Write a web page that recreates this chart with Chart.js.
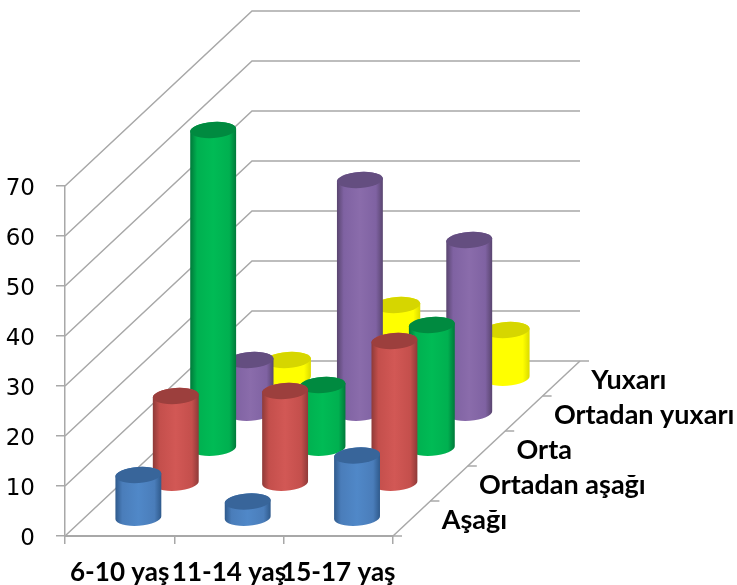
<!DOCTYPE html>
<html lang="en">
<head>
    <meta charset="UTF-8">
    <title>3D cylinder chart</title>
    <style>
        body { margin: 0; background: #fff; }
        canvas { display: block; }
    </style>
</head>
<body>
    <canvas id="chart" width="737" height="585"></canvas>
    <script src="https://cdn.jsdelivr.net/npm/chart.js"></script>
    <script>
        // Chart data
        const categories = ['6-10 yaş', '11-14 yaş', '15-17 yaş'];
        const seriesNames = ['Aşağı', 'Ortadan aşağı', 'Orta', 'Ortadan yuxarı', 'Yuxarı'];
        const asagi = [8.7, 3.4, 12.6];
        const ortadanAsagi = [17.5, 18.5, 28.5];
        const orta = [63.7, 12.7, 24.7];
        const ortadanYuxari = [10.7, 46.7, 34.7];
        const yuxari = [3.7, 14.7, 9.7];
        const seriesValues = [asagi, ortadanAsagi, orta, ortadanYuxari, yuxari];

        // Colours per series: edge, body, highlight, cap
        const seriesColors = [
            ['#2f5a8c', '#4a7dba', '#5088c8', '#38659a'],
            ['#8e3a38', '#c44f4c', '#d25855', '#9c3f3d'],
            ['#00793a', '#00b050', '#00bb55', '#008a40'],
            ['#59456f', '#7f62a2', '#8a6cab', '#644e80'],
            ['#dada00', '#ffff00', '#ffff00', '#d6d600']
        ];

        const GRID = '#a8a8a8';
        const LABEL_FONT = 'Lato';
        const DEPTH_X = 187;
        const DEPTH_Y = 175;
        const CAP_RY = 8;
        const CAP_TILT = -4 * Math.PI / 180;

        function drawCylinder(ctx, x, top, base, r, colors) {
            const grad = ctx.createLinearGradient(x - r, 0, x + r, 0);
            grad.addColorStop(0, colors[0]);
            grad.addColorStop(0.15, colors[1]);
            grad.addColorStop(0.5, colors[2]);
            grad.addColorStop(0.85, colors[1]);
            grad.addColorStop(1, colors[0]);
            ctx.beginPath();
            ctx.ellipse(x, base, r, CAP_RY, CAP_TILT, 0, Math.PI);
            ctx.ellipse(x, top, r, CAP_RY, CAP_TILT, Math.PI, Math.PI * 2);
            ctx.closePath();
            ctx.fillStyle = grad;
            ctx.fill();
            ctx.beginPath();
            ctx.ellipse(x, top, r, CAP_RY, CAP_TILT, 0, Math.PI * 2);
            ctx.fillStyle = colors[3];
            ctx.fill();
        }

        // Walls, floor and depth axis go behind the cylinders
        const wallsPlugin = {
            id: 'walls',
            beforeDatasetsDraw(chart) {
                const ctx = chart.ctx;
                const y = chart.scales.y;
                const area = chart.chartArea;
                ctx.save();
                ctx.strokeStyle = GRID;
                ctx.lineWidth = 1.5;
                y.ticks.forEach(function(t) {
                    const py = y.getPixelForValue(t.value);
                    ctx.beginPath();
                    ctx.moveTo(area.left, py);
                    ctx.lineTo(area.left + DEPTH_X, py - DEPTH_Y);
                    ctx.lineTo(area.right + DEPTH_X, py - DEPTH_Y);
                    ctx.stroke();
                });
                // floor right edge
                ctx.beginPath();
                ctx.moveTo(area.right, area.bottom);
                ctx.lineTo(area.right + DEPTH_X, area.bottom - DEPTH_Y);
                ctx.stroke();
                // depth ticks and names
                const n = seriesNames.length;
                for (let i = 0; i <= n; i++) {
                    const px = area.right + DEPTH_X * i / n;
                    const py = area.bottom - DEPTH_Y * i / n;
                    ctx.beginPath();
                    ctx.moveTo(px, py);
                    ctx.lineTo(px + 9, py);
                    ctx.stroke();
                }
                ctx.fillStyle = '#000';
                ctx.font = 'bold 27px ' + LABEL_FONT;
                ctx.textBaseline = 'middle';
                seriesNames.forEach(function(name, i) {
                    const px = area.right + DEPTH_X * (i + 0.5) / n + 30;
                    const py = area.bottom - DEPTH_Y * (i + 0.5) / n + 2;
                    ctx.fillText(name, px, py);
                });
                ctx.restore();
            }
        };

        // Bars are invisible, their positions are used for the cylinders
        const cylinderPlugin = {
            id: 'cylinders',
            afterDatasetsDraw(chart) {
                const ctx = chart.ctx;
                const n = seriesNames.length;
                ctx.save();
                for (let s = n - 1; s >= 0; s--) {
                    const dx = DEPTH_X * (s + 0.5) / n;
                    const dy = DEPTH_Y * (s + 0.5) / n;
                    chart.getDatasetMeta(s).data.forEach(function(bar) {
                        drawCylinder(ctx, bar.x + dx, bar.y - dy, bar.base - dy, bar.width / 2, seriesColors[s]);
                    });
                }
                ctx.restore();
            }
        };

        new Chart(document.getElementById('chart'), {
            type: 'bar',
            data: {
                labels: categories,
                datasets: seriesNames.map(function(name, i) {
                    return {
                        label: name,
                        data: seriesValues[i],
                        backgroundColor: 'transparent',
                        barThickness: 46,
                        grouped: false
                    };
                })
            },
            options: {
                responsive: false,
                animation: false,
                layout: { padding: { left: 0, right: 344, top: 186, bottom: 0 } },
                plugins: {
                    legend: { display: false },
                    tooltip: { enabled: false }
                },
                scales: {
                    x: {
                        afterFit: function(scale) { scale.height = 49; },
                        grid: { color: GRID, lineWidth: 1.5, drawOnChartArea: false, tickLength: 8 },
                        border: { color: GRID, width: 2 },
                        ticks: {
                            color: '#000',
                            font: { family: LABEL_FONT, size: 26, weight: 'bold' },
                            maxRotation: 0,
                            autoSkip: false,
                            padding: 13
                        }
                    },
                    y: {
                        min: 0,
                        max: 70,
                        afterFit: function(scale) { scale.width = 65; },
                        grid: { color: GRID, lineWidth: 1.5, drawOnChartArea: false, tickLength: 9 },
                        border: { color: GRID, width: 1.5 },
                        ticks: {
                            stepSize: 10,
                            color: '#000',
                            font: { family: 'DejaVu Sans', size: 23 },
                            padding: 21,
                            labelOffset: 3
                        }
                    }
                }
            },
            plugins: [wallsPlugin, cylinderPlugin]
        });
    </script>
</body>
</html>
